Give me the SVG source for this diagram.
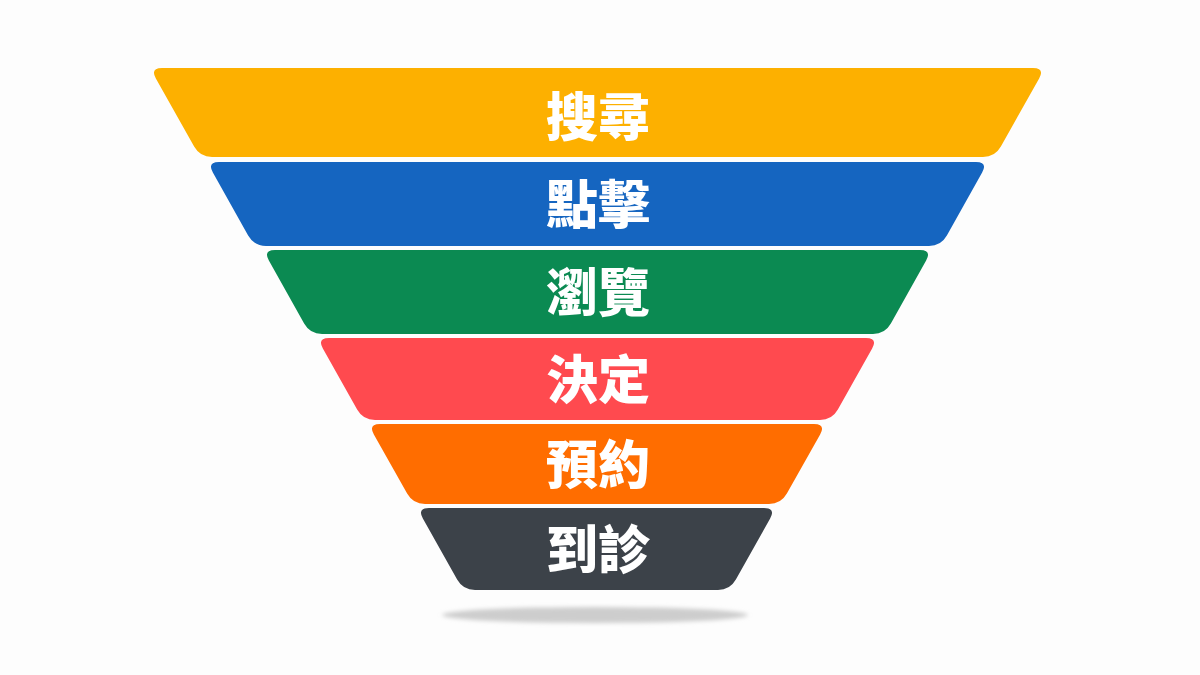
<svg xmlns="http://www.w3.org/2000/svg" width="1200" height="675" viewBox="0 0 1200 675">
  <defs>
    <style>
      .lbl { font-family: "Noto Sans CJK TC", "Noto Sans CJK SC", sans-serif; font-weight: 900; font-size: 52px; fill: #FFFFFF; text-anchor: middle; }
    </style>
    <filter id="blur" x="-20%" y="-200%" width="140%" height="500%">
      <feGaussianBlur stdDeviation="2"/>
    </filter>
  </defs>
  <rect width="1200" height="675" fill="#FDFDFD"/>
  <ellipse cx="595" cy="615" rx="153" ry="8" fill="#CDCDCD" filter="url(#blur)"/>
  <g id="search">
    <path d="M162,68 H1033 Q1045,68 1039.14,78.47 L1000.86,146.53 Q995,157 983,157 H212 Q200,157 194.14,146.53 L155.86,78.47 Q150,68 162,68Z" fill="#FDB000"/>
    <text class="lbl" x="598" y="136">搜尋</text>
  </g>
  <g id="click">
    <path d="M219,162 H976 Q988,162 982.14,172.47 L946.86,235.53 Q941,246 929,246 H266 Q254,246 248.14,235.53 L212.86,172.47 Q207,162 219,162Z" fill="#1565C0"/>
    <text class="lbl" x="598" y="224">點擊</text>
  </g>
  <g id="browse">
    <path d="M275,250 H920 Q932,250 926.14,260.47 L890.86,323.53 Q885,334 873,334 H322 Q310,334 304.14,323.53 L268.86,260.47 Q263,250 275,250Z" fill="#0B8A52"/>
    <text class="lbl" x="598" y="312">瀏覽</text>
  </g>
  <g id="decide">
    <path d="M329,338 H866 Q878,338 872.14,348.47 L837.86,409.53 Q832,420 820,420 H375 Q363,420 357.14,409.53 L322.86,348.47 Q317,338 329,338Z" fill="#FF4A4F"/>
    <text class="lbl" x="598" y="399">決定</text>
  </g>
  <g id="book">
    <path d="M380,424 H814 Q826,424 820.14,434.47 L786.86,493.53 Q781,504 769,504 H425 Q413,504 407.14,493.53 L373.86,434.47 Q368,424 380,424Z" fill="#FF6D00"/>
    <text class="lbl" x="598" y="484">預約</text>
  </g>
  <g id="visit">
    <path d="M429,508 H764 Q776,508 770.14,518.47 L735.86,579.53 Q730,590 718,590 H475 Q463,590 457.14,579.53 L422.86,518.47 Q417,508 429,508Z" fill="#3C4249"/>
    <text class="lbl" x="598" y="569">到診</text>
  </g>
</svg>
